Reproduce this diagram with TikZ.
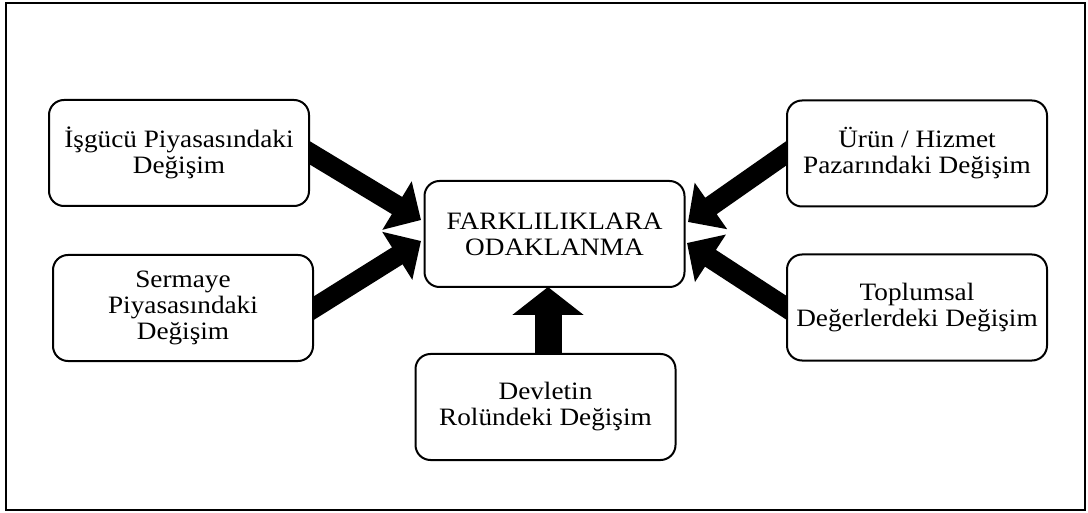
\documentclass[tikz,border=0pt]{standalone}
\usepackage{fontspec}
\setmainfont{Liberation Serif}[FakeStretch=1.09]
\usetikzlibrary{arrows.meta,calc}
\pgfdeclarelayer{background}
\pgfsetlayers{background,main}
\tikzset{
  factor/.style={draw=black, line width=2pt, fill=white, rounded corners=15pt,
    minimum width=260pt, minimum height=106pt, align=center,
    font=\fontsize{25pt}{26pt}\selectfont, inner sep=0pt},
  flow/.style={line width=20pt, -{Triangle[width=55pt,length=28pt]}},
  flowup/.style={line width=27pt, -{Triangle[width=70pt,length=28pt]}},
}
\begin{document}
\begin{tikzpicture}[x=1pt,y=-1pt]
\useasboundingbox (0,0) rectangle (1088,513);
\draw[line width=2.5pt] (6,3) rectangle (1085,510);

\node[factor] (core) at (554.5,234) {FARKLILIKLARA\\ODAKLANMA};
\node[factor] (labour) at (179,153) {İşgücü Piyasasındaki\\Değişim};
\node[factor] (capital) at (183,308) {Sermaye\\Piyasasındaki\\Değişim};
\node[factor] (market) at (917,153.5) {Ürün / Hizmet\\Pazarındaki Değişim};
\node[factor] (values) at (917,307.5) {Toplumsal\\Değerlerdeki Değişim};
\node[factor] (state) at (545.5,407) {Devletin\\Rolündeki Değişim};

% arrow tips next to the central box
\coordinate (tipA) at (421,220);
\coordinate (tipB) at (421,241);
\coordinate (tipC) at (688,222);
\coordinate (tipD) at (687,243);
\coordinate (tipE) at (548,287);
\coordinate (baseE) at (548,380);

\begin{pgfonlayer}{background}
  \draw[flow] ($(labour.east)!-14pt!(tipA)$) -- (tipA);
  \draw[flow] ($(capital.east)!-14pt!(tipB)$) -- (tipB);
  \draw[flow] ($(market.west)!-14pt!(tipC)$) -- (tipC);
  \draw[flow] ($(values.west)!-14pt!(tipD)$) -- (tipD);
  \draw[flowup] (baseE) -- (tipE);
\end{pgfonlayer}
\end{tikzpicture}
\end{document}
